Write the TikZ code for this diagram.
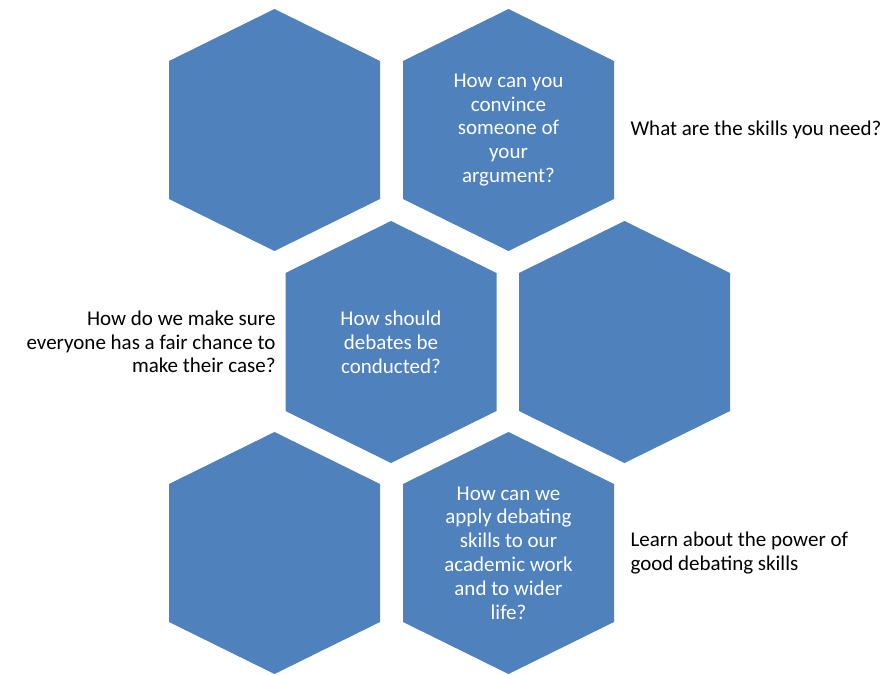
\documentclass[tikz,border=0pt]{standalone}
\usepackage{fontspec}
\setmainfont{Carlito}
\definecolor{hexblue}{HTML}{4F81BD}
\tikzset{
  hexfill/.style={fill=hexblue},
  hextext/.style={text=white, align=center, font=\fontsize{21}{23.8}\selectfont},
  sidetext/.style={text=black, font=\fontsize{21}{23.6}\selectfont}
}
\begin{document}
\begin{tikzpicture}[x=1pt,y=-1pt]
\useasboundingbox (0,0) rectangle (887,675);

% the six hexagons
\foreach \n/\x/\y in {h1/274.5/130, h2/508.5/130, h3/391/342, h4/624.5/342, h5/274.5/553, h6/508.5/553}{
  \coordinate (\n) at (\x,\y);
  \fill[hexfill] (\n) ++(0,-121) -- ++(105.5,52) -- ++(0,138) -- ++(-105.5,52)
    -- ++(-105.5,-52) -- ++(0,-138) -- cycle;
}

\node[hextext] (q1) at (h2) {How can you\\convince\\someone of\\your\\argument?};
\node[hextext] (q2) at (h3) {How should\\debates be\\conducted?};
\node[hextext] (q3) at (h6) {How can we\\apply debating\\skills to our\\academic work\\and to wider\\life?};

\node[sidetext, anchor=west] (s1) at (627,130) {What are the skills you need?};
\node[sidetext, anchor=east, align=right] (s2) at (279,342) {How do we make sure\\everyone has a fair chance to\\make their case?};
\node[sidetext, anchor=west, align=left] (s3) at (627,553) {Learn about the power of\\good debating skills};

\end{tikzpicture}
\end{document}
